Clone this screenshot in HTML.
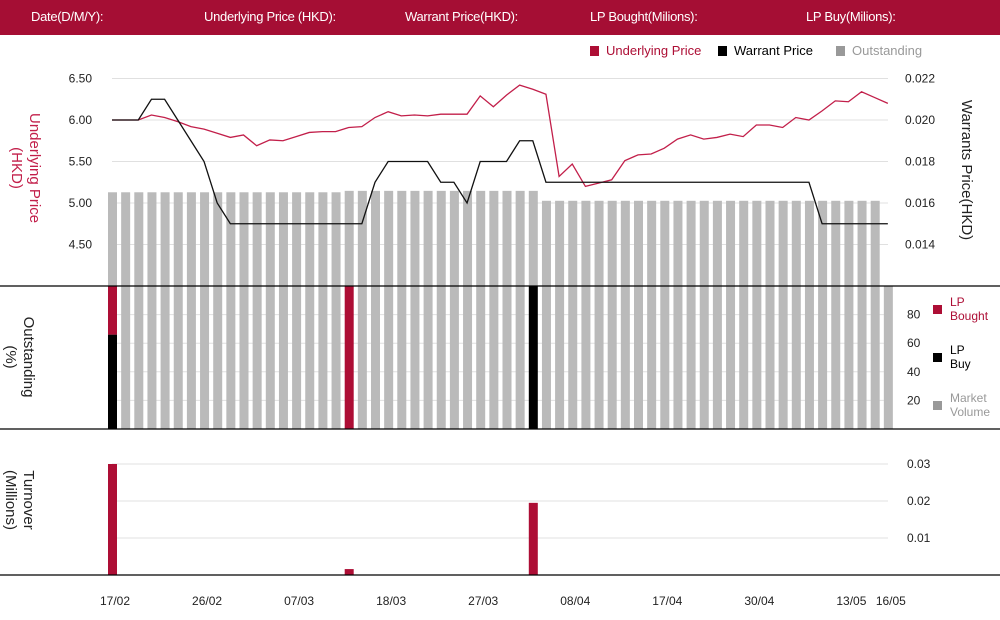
<!DOCTYPE html>
<html><head><meta charset="utf-8"><style>
body{margin:0;width:1000px;height:620px;overflow:hidden;background:#fff;font-family:"Liberation Sans",sans-serif;}
#hdr{position:absolute;left:0;top:0;width:1000px;height:35px;background:#a50e34;}
#hdr span{position:absolute;top:9px;color:#fff;font-size:13px;letter-spacing:-0.3px;}
svg{position:absolute;left:0;top:0;}
</style></head><body>
<div id="hdr">
<span style="left:31px">Date(D/M/Y):</span>
<span style="left:204px">Underlying Price (HKD):</span>
<span style="left:405px">Warrant Price(HKD):</span>
<span style="left:590px">LP Bought(Milions):</span>
<span style="left:806px">LP Buy(Milions):</span>
</div>
<svg id="chart" width="1000" height="620"></svg>
<script>
const dates=["17/02","","","","","","","26/02","","","","","","","07/03","","","","","","","18/03","","","","","","","27/03","","","","","","","08/04","","","","","","","17/04","","","","","","","30/04","","","","","","","13/05","","","16/05"];
const underlying=[6.00,6.00,6.00,6.06,6.03,5.98,5.92,5.89,5.84,5.79,5.82,5.69,5.76,5.75,5.80,5.85,5.86,5.86,5.91,5.92,6.03,6.10,6.05,6.06,6.05,6.07,6.07,6.07,6.29,6.16,6.30,6.42,6.37,6.31,5.32,5.47,5.20,5.24,5.28,5.51,5.58,5.59,5.66,5.77,5.82,5.77,5.79,5.83,5.80,5.94,5.94,5.91,6.03,6.00,6.11,6.23,6.22,6.34,6.27,6.20];
const warrant=[0.020,0.020,0.020,0.021,0.021,0.020,0.019,0.018,0.016,0.015,0.015,0.015,0.015,0.015,0.015,0.015,0.015,0.015,0.015,0.015,0.017,0.018,0.018,0.018,0.018,0.017,0.017,0.016,0.018,0.018,0.018,0.019,0.019,0.017,0.017,0.017,0.017,0.017,0.017,0.017,0.017,0.017,0.017,0.017,0.017,0.017,0.017,0.017,0.017,0.017,0.017,0.017,0.017,0.017,0.015,0.015,0.015,0.015,0.015,0.015];
const outstandingTop=[];for(let i=0;i<59;i++){outstandingTop.push(i<18?66:(i<33?67:60));}
const lpBoughtPct=[34,0,0,0,0,0,0,0,0,0,0,0,0,0,0,0,0,0,100,0,0,0,0,0,0,0,0,0,0,0,0,0,0,0,0,0,0,0,0,0,0,0,0,0,0,0,0,0,0,0,0,0,0,0,0,0,0,0,0,0];
const lpBuyPct=[66,0,0,0,0,0,0,0,0,0,0,0,0,0,0,0,0,0,0,0,0,0,0,0,0,0,0,0,0,0,0,0,100,0,0,0,0,0,0,0,0,0,0,0,0,0,0,0,0,0,0,0,0,0,0,0,0,0,0,0];
const turnover=[0.030,0,0,0,0,0,0,0,0,0,0,0,0,0,0,0,0,0,0.0016,0,0,0,0,0,0,0,0,0,0,0,0,0,0.0195,0,0,0,0,0,0,0,0,0,0,0,0,0,0,0,0,0,0,0,0,0,0,0,0,0,0,0];
const leftTicks=[6.5,6.0,5.5,5.0,4.5];
const rightTicks=[0.022,0.020,0.018,0.016,0.014];
const pctTicks=[80,60,40,20];
const turnTicks=[0.03,0.02,0.01];

const NS="http://www.w3.org/2000/svg";const svg=document.getElementById('chart');
function mk(t,a,p){const e=document.createElementNS(NS,t);for(const k in a)e.setAttribute(k,a[k]);(p||svg).appendChild(e);return e;}
const x=i=>112+i*13.15;
const yL=v=>120-(v-6)*83;
const yR=v=>120-(v-0.020)*20750;
const yTop=v=>286-v*1.42; // outstanding in top chart (% -> px above 286)
const yP=v=>429-v*1.43;
const yT=v=>575-v*3700;
const BW=9;

// gridlines top
leftTicks.forEach(v=>{const g=mk('line',{x1:112,x2:888,y1:yL(v),y2:yL(v),stroke:'#e0e0e0'});
const t=mk('text',{x:92,y:yL(v)+4,'text-anchor':'end','font-size':12,fill:'#222'});t.textContent=v.toFixed(2);});
rightTicks.forEach(v=>{const t=mk('text',{x:905,y:yR(v)+4,'font-size':12,fill:'#222'});t.textContent=v.toFixed(3);});
pctTicks.forEach(v=>{const g=mk('line',{x1:112,x2:888,y1:yP(v),y2:yP(v),stroke:'#e0e0e0'});
const t=mk('text',{x:907,y:yP(v)+4,'font-size':12,fill:'#222'});t.textContent=v;});
turnTicks.forEach(v=>{const g=mk('line',{x1:112,x2:888,y1:yT(v),y2:yT(v),stroke:'#e0e0e0'});
const t=mk('text',{x:907,y:yT(v)+4,'font-size':12,fill:'#222'});t.textContent=v.toFixed(2);});

// top bars
outstandingTop.forEach((v,i)=>{const r=mk('rect',{x:x(i)-4,y:yTop(v),width:BW,height:286-yTop(v),fill:'#bababa'});});
// lines
let d='';underlying.forEach((v,i)=>{d+=(i?'L':'M')+x(i)+','+yL(v);});
const l1=mk('path',{d:d,fill:'none',stroke:'#c21f4a','stroke-width':1.3});
d='';warrant.forEach((v,i)=>{d+=(i?'L':'M')+x(i)+','+yR(v);});
const l2=mk('path',{d:d,fill:'none',stroke:'#111','stroke-width':1.3});

// middle bars
dates.forEach((_,i)=>{const b=lpBoughtPct[i],u=lpBuyPct[i],m=100-b-u;
if(u>0){const r=mk('rect',{x:x(i)-4,y:yP(u),width:BW,height:429-yP(u),fill:'#000'});}
if(b>0){const r=mk('rect',{x:x(i)-4,y:yP(u+b),width:BW,height:yP(u)-yP(u+b),fill:'#ad0e35'});}
if(m>0){const r=mk('rect',{x:x(i)-4,y:yP(100),width:BW,height:yP(u+b)-yP(100),fill:'#bababa'});}
});
// turnover
turnover.forEach((v,i)=>{if(v<=0)return;const r=mk('rect',{x:x(i)-4,y:yT(v),width:BW,height:575-yT(v),fill:'#ad0e35'});});
// axes
[286,429,575].forEach(y=>{const l=mk('line',{x1:0,x2:1000,y1:y,y2:y,stroke:'#000','stroke-width':1.2});});
// x labels
dates.forEach((s,i)=>{if(!s)return;const t=mk('text',{x:x(i)+3,y:605,'text-anchor':'middle','font-size':12,fill:'#222'});t.textContent=s;});
// axis titles
function vt(txt,cx,cy,rot,col,name){const t=mk('text',{x:0,y:0,'text-anchor':'middle','font-size':15,fill:col,transform:`translate(${cx},${cy}) rotate(${rot})`});t.textContent=txt;}
vt('Underlying Price',30,168,90,'#c21f4a','left-axis-title');vt('(HKD)',12,168,90,'#c21f4a','left-axis-title-unit');
vt('Warrants  Price(HKD)',962,170,90,'#222','right-axis-title');
vt('Outstanding',24,357,90,'#222','outstanding-axis-title');vt('(%)',6,357,90,'#222','outstanding-axis-unit');
vt('Turnover',24,500,90,'#222','turnover-axis-title');vt('(Millions)',6,500,90,'#222','turnover-axis-unit');
// top legend
function leg(xx,y,col,txt,tc,name){const r=mk('rect',{x:xx,y:y-9,width:9,height:10,fill:col});
const t=mk('text',{x:xx+16,y:y,'font-size':13,fill:tc});t.textContent=txt;}
leg(590,55,'#ad0e35','Underlying Price','#ad0e35','legend-underlying');
leg(718,55,'#000','Warrant  Price','#000','legend-warrant');
leg(836,55,'#999','Outstanding','#999','legend-outstanding');
// side legend
function sl(y,col,l1t,l2t,tc,name){const r=mk('rect',{x:933,y:y-4,width:9,height:9,fill:col});
const a=mk('text',{x:950,y:y-3,'font-size':12,fill:tc});a.textContent=l1t;
const b=mk('text',{x:950,y:y+11,'font-size':12,fill:tc});b.textContent=l2t;}
sl(309,'#ad0e35','LP','Bought','#ad0e35','legend-lp-bought');
sl(357,'#000','LP','Buy','#000','legend-lp-buy');
sl(405,'#999','Market','Volume','#999','legend-market-volume');
</script>
</body></html>
